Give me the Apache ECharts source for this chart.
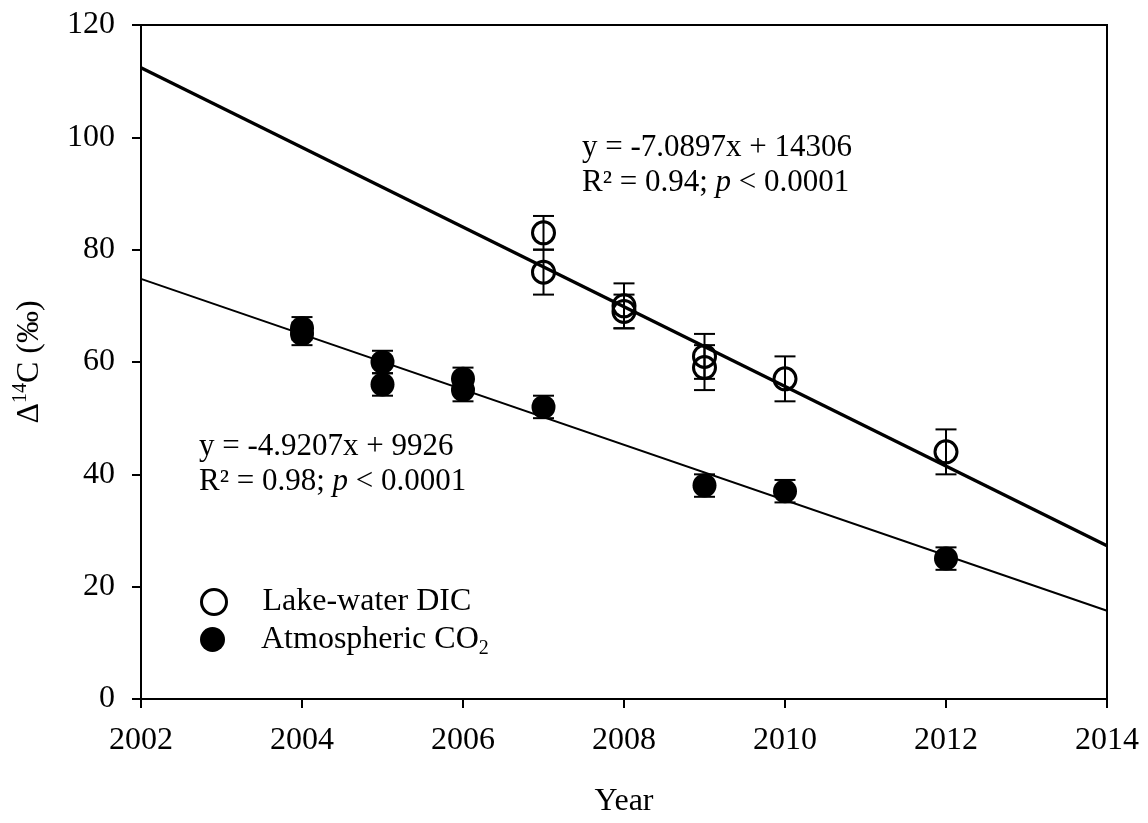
<!DOCTYPE html>
<html>
<head>
<meta charset="utf-8">
<script src="https://cdn.jsdelivr.net/npm/echarts@6/dist/echarts.min.js"></script>
<style>
html,body{margin:0;padding:0;background:#fff;}
#chart{width:1148px;height:823px;}
</style>
</head>
<body>
<div id="chart"></div>
<script>
// ---- data ----
const lakeYear = [2007, 2007, 2008, 2008, 2009, 2009, 2010, 2012];
const lakeD14C = [83, 76, 70, 69, 61, 59, 57, 44];
const lakeErr  = [3, 4, 4, 3, 4, 4, 4, 4];

const atmYear = [2004, 2004, 2005, 2005, 2006, 2006, 2007, 2009, 2010, 2012];
const atmD14C = [66, 65, 60, 56, 57, 55, 52, 38, 37, 25];
const atmErr  = [2, 2, 2, 2, 2, 2, 2, 2, 2, 2];

// fitted regression lines (end points over the axis range)
const fitX     = [2002, 2014];
const lakeFitY = [112.4, 27.3];
const atmFitY  = [74.8, 15.7];

const xTicks = [2002, 2004, 2006, 2008, 2010, 2012, 2014];
const yTicks = [0, 20, 40, 60, 80, 100, 120];

const lakeEq = ['y = -7.0897x + 14306', 'R² = 0.94; ', 'p', ' < 0.0001'];
const atmEq  = ['y = -4.9207x + 9926', 'R² = 0.98; ', 'p', ' < 0.0001'];
const lakeName = 'Lake-water DIC';
const atmName = 'Atmospheric CO2';

// ---- build ----
const FONT = '"Liberation Serif", "Times New Roman", serif';
const zip3 = (a, b, c) => a.map((v, i) => [v, b[i], c[i]]);
const zip2 = (a, b) => a.map((v, i) => [v, b[i]]);

function errRender(params, api) {
  const x = api.value(0), y = api.value(1), e = api.value(2);
  const top = api.coord([x, y + e]);
  const bot = api.coord([x, y - e]);
  const h = 10.5;
  const st = { stroke: '#000', lineWidth: 2 };
  return {
    type: 'group',
    children: [
      { type: 'line', shape: { x1: top[0], y1: top[1], x2: bot[0], y2: bot[1] }, style: st },
      { type: 'line', shape: { x1: top[0] - h, y1: top[1], x2: top[0] + h, y2: top[1] }, style: st },
      { type: 'line', shape: { x1: bot[0] - h, y1: bot[1], x2: bot[0] + h, y2: bot[1] }, style: st }
    ]
  };
}

const chart = echarts.init(document.getElementById('chart'), null, { renderer: 'canvas' });
const axisCommon = {
  axisLine: { show: true, lineStyle: { color: '#000', width: 2 } },
  axisTick: { show: true, inside: false, length: 9, lineStyle: { color: '#000', width: 2 } },
  axisLabel: { color: '#000', fontSize: 32, fontFamily: FONT, margin: 26 },
  splitLine: { show: false }
};

const eqRich = {
  n: { fontSize: 31, fontFamily: FONT, color: '#000', lineHeight: 35 },
  i: { fontSize: 31, fontFamily: FONT, color: '#000', fontStyle: 'italic', lineHeight: 35 }
};
function eqText(eq) {
  return '{n|' + eq[0] + '}\n{n|' + eq[1] + '}{i|' + eq[2] + '}{n|' + eq[3] + '}';
}

const legendBase = {
  orient: 'vertical', left: 195, itemWidth: 25, itemHeight: 25, itemGap: 0, selectedMode: false,
  formatter: function (name) {
    return name === atmName ? '{a|Atmospheric CO}{b|2}' : '{a|' + name + '}';
  },
  textStyle: {
    color: '#000', fontFamily: FONT, fontSize: 32, padding: [0, 0, 0, 31],
    rich: {
      a: { fontSize: 32, fontFamily: FONT, color: '#000', lineHeight: 25 },
      b: { fontSize: 20, fontFamily: FONT, color: '#000', lineHeight: 39, verticalAlign: 'bottom' }
    }
  }
};

chart.setOption({
  animation: false,
  backgroundColor: '#fff',
  grid: { left: 141, right: 41, top: 25, bottom: 121, show: true, borderColor: '#000', borderWidth: 2 },
  xAxis: Object.assign({}, axisCommon, {
    type: 'value', min: xTicks[0], max: xTicks[xTicks.length - 1], interval: 2,
    axisLabel: Object.assign({}, axisCommon.axisLabel, { formatter: v => String(v) }),
    name: 'Year', nameLocation: 'middle', nameGap: 87,
    nameTextStyle: { color: '#000', fontSize: 32, fontFamily: FONT }
  }),
  yAxis: Object.assign({}, axisCommon, {
    type: 'value', min: yTicks[0], max: yTicks[yTicks.length - 1], interval: 20,
    name: '{a|Δ}{s|14}{a|C (‰)}', nameLocation: 'middle', nameGap: 95,
    nameTextStyle: {
      color: '#000', fontFamily: FONT,
      rich: {
        a: { fontSize: 32, fontFamily: FONT, color: '#000', lineHeight: 35, verticalAlign: 'bottom' },
        s: { fontSize: 20, fontFamily: FONT, color: '#000', lineHeight: 20, verticalAlign: 'top' }
      }
    }
  }),
  legend: [
    Object.assign({}, legendBase, {
      top: 581,
      data: [{ name: lakeName, icon: 'circle', itemStyle: { color: 'rgba(0,0,0,0)', borderColor: '#000', borderWidth: 3 } }]
    }),
    Object.assign({}, legendBase, {
      top: 618.5,
      data: [{ name: atmName, icon: 'circle', itemStyle: { color: '#000', borderWidth: 0 } }]
    })
  ],
  graphic: [
    { type: 'text', left: 582, top: 132, z: 10, style: { text: eqText(lakeEq), rich: eqRich, fill: '#000', font: '31px ' + FONT } },
    { type: 'text', left: 199, top: 431, z: 10, style: { text: eqText(atmEq), rich: eqRich, fill: '#000', font: '31px ' + FONT } }
  ],
  series: [
    { name: 'lakeFit', type: 'line', data: zip2(fitX, lakeFitY), symbol: 'none', z: 2,
      lineStyle: { color: '#000', width: 3.3 }, silent: true },
    { name: 'atmFit', type: 'line', data: zip2(fitX, atmFitY), symbol: 'none', z: 2,
      lineStyle: { color: '#000', width: 2 }, silent: true },
    { name: 'lakeErr', type: 'custom', renderItem: errRender, data: zip3(lakeYear, lakeD14C, lakeErr), z: 3, silent: true },
    { name: 'atmErr', type: 'custom', renderItem: errRender, data: zip3(atmYear, atmD14C, atmErr), z: 3, silent: true },
    { name: lakeName, type: 'scatter', data: zip2(lakeYear, lakeD14C), symbol: 'circle', symbolSize: 22, z: 4,
      itemStyle: { color: 'rgba(0,0,0,0)', borderColor: '#000', borderWidth: 3, opacity: 1 } },
    { name: atmName, type: 'scatter', data: zip2(atmYear, atmD14C), symbol: 'circle', symbolSize: 24, z: 4,
      itemStyle: { color: '#000', opacity: 1 } }
  ]
});
</script>
</body>
</html>
